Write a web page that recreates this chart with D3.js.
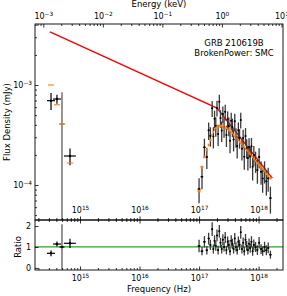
<!DOCTYPE html>
<html>
<head>
<meta charset="utf-8">
<script src="https://cdn.jsdelivr.net/npm/d3@7"></script>
<style>
  body { margin: 0; background: #fff; }
  text { font-family: "DejaVu Sans", sans-serif; }
</style>
</head>
<body>
<div id="root"></div>
<script>
// optical / UV points
var optNu = [3.26e14, 4.10e14, 4.98e14, 6.79e14];
var optNuLo = [2.79e14, 3.52e14, 4.98e14, 5.37e14];
var optNuHi = [3.80e14, 4.80e14, 4.98e14, 8.51e14];
var optFlux = [6.97e-4, 7.24e-4, 4.07e-4, 1.95e-4];
var optErr = [1.35e-4, 0.75e-4, 4.4e-4, 0.37e-4];
var optModel = [1.0e-3, 6.35e-4, 4.07e-4, 1.66e-4];

// X-ray bins
var xrayNu = [1.00e17, 1.12e17, 1.23e17, 1.35e17, 1.45e17, 1.55e17, 1.66e17, 1.74e17, 1.82e17, 1.91e17,
  2.00e17, 2.09e17, 2.19e17, 2.29e17, 2.40e17, 2.51e17, 2.63e17, 2.75e17, 2.88e17, 3.02e17,
  3.16e17, 3.31e17, 3.47e17, 3.63e17, 3.80e17, 3.98e17, 4.17e17, 4.37e17, 4.57e17, 4.79e17,
  5.01e17, 5.25e17, 5.50e17, 5.75e17, 6.03e17, 6.31e17, 6.61e17, 6.92e17, 7.24e17, 7.59e17,
  7.94e17, 8.32e17, 8.91e17, 9.55e17, 1.02e18, 1.10e18, 1.17e18, 1.26e18, 1.35e18, 1.45e18, 1.58e18];
var xrayFlux = [9.1e-5, 1.21e-4, 2.38e-4, 1.90e-4, 3.52e-4, 3.10e-4, 5.85e-4, 3.05e-4, 4.61e-4, 3.90e-4,
  5.89e-4, 3.23e-4, 6.81e-4, 4.67e-4, 3.50e-4, 5.13e-4, 3.80e-4, 5.39e-4, 3.16e-4, 4.54e-4,
  3.90e-4, 2.77e-4, 4.40e-4, 3.81e-4, 2.85e-4, 4.33e-4, 3.02e-4, 2.45e-4, 3.52e-4, 2.96e-4,
  4.47e-4, 2.31e-4, 2.95e-4, 1.92e-4, 3.09e-4, 2.35e-4, 1.86e-4, 2.40e-4, 1.94e-4, 2.44e-4,
  1.52e-4, 2.00e-4, 1.74e-4, 1.41e-4, 1.90e-4, 1.36e-4, 1.16e-4, 1.38e-4, 1.09e-4, 1.17e-4, 7.4e-5];
var xrayRelErr = [0.28, 0.25, 0.22, 0.24, 0.2, 0.22, 0.18, 0.24, 0.2, 0.22,
  0.18, 0.24, 0.17, 0.2, 0.23, 0.19, 0.22, 0.18, 0.24, 0.2,
  0.21, 0.25, 0.2, 0.21, 0.24, 0.19, 0.22, 0.25, 0.2, 0.22,
  0.18, 0.24, 0.21, 0.26, 0.2, 0.22, 0.25, 0.22, 0.24, 0.21,
  0.27, 0.23, 0.24, 0.27, 0.23, 0.26, 0.28, 0.25, 0.28, 0.27, 0.3];
var xrayModel = [8.7e-5, 1.51e-4, 1.91e-4, 2.24e-4, 2.51e-4, 2.82e-4, 3.16e-4, 3.39e-4, 3.55e-4, 3.72e-4,
  3.80e-4, 3.80e-4, 3.89e-4, 3.89e-4, 3.89e-4, 3.80e-4, 3.80e-4, 3.72e-4, 3.72e-4, 3.63e-4,
  3.55e-4, 3.47e-4, 3.39e-4, 3.31e-4, 3.16e-4, 3.09e-4, 3.02e-4, 2.88e-4, 2.82e-4, 2.69e-4,
  2.63e-4, 2.57e-4, 2.45e-4, 2.40e-4, 2.29e-4, 2.24e-4, 2.19e-4, 2.09e-4, 2.04e-4, 1.95e-4,
  1.91e-4, 1.82e-4, 1.74e-4, 1.66e-4, 1.58e-4, 1.51e-4, 1.45e-4, 1.38e-4, 1.29e-4, 1.23e-4, 1.17e-4];

// unabsorbed broken power law
var lineNu = [3.13e14, 2.0e17, 1.70e18];
var lineFlux = [3.39e-3, 5.89e-4, 1.17e-4];

var majorNu = [1e15, 1e16, 1e17, 1e18];
var majorE = [1e-3, 1e-2, 1e-1, 1e0, 1e1];
var majorF = [1e-4, 1e-3];
var ratioTicks = [0, 1, 2];
var keVtoHz = 2.418e17;

var W = 287, H = 296;
var L = 35, R = 283, T = 24, B1 = 220, B2 = 270;

var svg = d3.select("#root").append("svg")
  .attr("width", W).attr("height", H);

var x = d3.scaleLog().domain([10 ** 14.244, 10 ** 18.41]).range([L, R]);
var xE = d3.scaleLog().domain(x.domain().map(d => d / keVtoHz)).range([L, R]);
var y = d3.scaleLog().domain([10 ** -4.35, 10 ** -2.39]).range([B1, T]);
var yR = d3.scaleLinear().domain([-0.1, 2.24]).range([B2, B1 + 1]);

function minors(scale) {
  var d = scale.domain(), out = [];
  var lo = Math.floor(Math.log10(d[0])), hi = Math.ceil(Math.log10(d[1]));
  for (var e = lo; e <= hi; e++) for (var m = 2; m < 10; m++) {
    var v = m * 10 ** e;
    if (v > d[0] && v < d[1]) out.push(v);
  }
  return out;
}
function sup(sel, d) {
  var e = Math.round(Math.log10(d));
  sel.text(null);
  sel.append("tspan").text("10");
  sel.append("tspan").attr("dy", "-0.45em").attr("font-size", "5.8px")
    .text(String(e).replace("-", "\u2212"));
}
function styleAxis(g) {
  g.select(".domain").remove();
  g.selectAll("line").attr("stroke", "#000").attr("stroke-width", 0.8);
  g.selectAll("text").attr("font-size", "8px").attr("fill", "#000")
    .attr("font-family", "DejaVu Sans, sans-serif");
}

svg.append("clipPath").attr("id", "c1").append("rect")
  .attr("x", L).attr("y", T).attr("width", R - L).attr("height", B1 - T);
svg.append("clipPath").attr("id", "c2").append("rect")
  .attr("x", L).attr("y", B1).attr("width", R - L).attr("height", B2 - B1);

var main = svg.append("g").attr("clip-path", "url(#c1)");
var rat = svg.append("g").attr("clip-path", "url(#c2)");

// bin edges from neighbouring centres
var logC = xrayNu.map(Math.log10);
var edges = logC.map(function (c, i) {
  var lo = i > 0 ? (c + logC[i - 1]) / 2 : c - (logC[1] - logC[0]) / 2;
  var hi = i < logC.length - 1 ? (c + logC[i + 1]) / 2 : c + (c - logC[i - 1]) / 2;
  return [10 ** lo, 10 ** hi];
});

// red model
main.append("path")
  .datum(d3.zip(lineNu, lineFlux))
  .attr("fill", "none").attr("stroke", "#ff0000").attr("stroke-width", 1.4)
  .attr("d", d3.line().x(d => x(d[0])).y(d => y(d[1])));

// X-ray error bars
var xr = main.append("g");
xrayNu.forEach(function (nu, i) {
  var f = xrayFlux[i], e = f * xrayRelErr[i];
  xr.append("line").attr("x1", x(nu)).attr("x2", x(nu))
    .attr("y1", y(f + e)).attr("y2", y(f - e))
    .attr("stroke", "#3a3a3a").attr("stroke-width", 1.3);
  xr.append("line").attr("x1", x(edges[i][0])).attr("x2", x(edges[i][1]))
    .attr("y1", y(f)).attr("y2", y(f))
    .attr("stroke", "#000").attr("stroke-width", 1.1);
});
xrayNu.forEach(function (nu, i) {
  xr.append("circle").attr("cx", x(nu)).attr("cy", y(xrayFlux[i])).attr("r", 1).attr("fill", "#000");
});

// orange absorbed model
xrayNu.forEach(function (nu, i) {
  main.append("line").attr("x1", x(edges[i][0])).attr("x2", x(edges[i][1]))
    .attr("y1", y(xrayModel[i])).attr("y2", y(xrayModel[i]))
    .attr("stroke", "#ff7f0e").attr("stroke-width", 2.6);
});

// optical
optNu.forEach(function (nu, i) {
  var f = optFlux[i], e = optErr[i], big = e > f * 0.8;
  var lo = Math.max(f - e, 1e-8);
  main.append("line").attr("x1", x(nu)).attr("x2", x(nu))
    .attr("y1", y(f + e)).attr("y2", y(lo))
    .attr("stroke", big ? "#7a7a7a" : "#000").attr("stroke-width", big ? 1.6 : 1.2);
  main.append("line").attr("x1", x(optNuLo[i]) - (big ? 2.5 : 0)).attr("x2", x(optNuHi[i]) + (big ? 2.5 : 0))
    .attr("y1", y(f)).attr("y2", y(f))
    .attr("stroke", big ? "#8a6a4a" : "#000").attr("stroke-width", 1.2);
  main.append("line").attr("x1", x(nu) - 3).attr("x2", x(nu) + 3)
    .attr("y1", y(optModel[i])).attr("y2", y(optModel[i]))
    .attr("stroke", "#ff7f0e").attr("stroke-width", 1.3).attr("opacity", 0.85);
  if (!big) main.append("circle").attr("cx", x(nu)).attr("cy", y(f)).attr("r", 1.2).attr("fill", "#000");
});

// ratio panel
rat.append("line").attr("x1", L).attr("x2", R).attr("y1", yR(1)).attr("y2", yR(1))
  .attr("stroke", "#22aa22").attr("stroke-width", 1.3);
xrayNu.forEach(function (nu, i) {
  var r = xrayFlux[i] / xrayModel[i], e = r * xrayRelErr[i];
  rat.append("line").attr("x1", x(nu)).attr("x2", x(nu))
    .attr("y1", yR(r + e)).attr("y2", yR(r - e))
    .attr("stroke", "#3a3a3a").attr("stroke-width", 1.3);
  rat.append("line").attr("x1", x(edges[i][0])).attr("x2", x(edges[i][1]))
    .attr("y1", yR(r)).attr("y2", yR(r)).attr("stroke", "#000").attr("stroke-width", 1.1);
  rat.append("circle").attr("cx", x(nu)).attr("cy", yR(r)).attr("r", 1).attr("fill", "#000");
});
optNu.forEach(function (nu, i) {
  var r = optFlux[i] / optModel[i], e = optErr[i] / optModel[i], big = e > r * 0.8;
  rat.append("line").attr("x1", x(nu)).attr("x2", x(nu))
    .attr("y1", yR(r + e)).attr("y2", yR(r - e))
    .attr("stroke", big ? "#7a7a7a" : "#000").attr("stroke-width", big ? 1.6 : 1.2);
  rat.append("line").attr("x1", x(optNuLo[i]) - (big ? 2.5 : 0)).attr("x2", x(optNuHi[i]) + (big ? 2.5 : 0))
    .attr("y1", yR(r)).attr("y2", yR(r)).attr("stroke", "#000").attr("stroke-width", 1.2);
  rat.append("circle").attr("cx", x(nu)).attr("cy", yR(r)).attr("r", 1.3).attr("fill", "#000");
});

// axes: main bottom (labels inside)
var gMb = svg.append("g").attr("transform", "translate(0," + B1 + ")");
gMb.append("g").call(d3.axisBottom(x).tickValues(minors(x)).tickSize(-2).tickFormat("")).call(styleAxis);
var gMbM = gMb.append("g").call(d3.axisBottom(x).tickValues(majorNu).tickSize(-3.5)).call(styleAxis);
gMbM.selectAll("text").attr("y", -7).attr("dy", 0).each(function (d) { sup(d3.select(this), d); });

// ratio top ticks
var gRt = svg.append("g").attr("transform", "translate(0," + B1 + ")");
gRt.append("g").call(d3.axisTop(x).tickValues(minors(x)).tickSize(-2).tickFormat("")).call(styleAxis);
gRt.append("g").call(d3.axisTop(x).tickValues(majorNu).tickSize(-3.5).tickFormat("")).call(styleAxis);

// ratio bottom
var gRb = svg.append("g").attr("transform", "translate(0," + B2 + ")");
gRb.append("g").call(d3.axisBottom(x).tickValues(minors(x)).tickSize(-2).tickFormat("")).call(styleAxis);
var gRbM = gRb.append("g").call(d3.axisBottom(x).tickValues(majorNu).tickSize(-3.5)).call(styleAxis);
gRbM.selectAll("text").attr("y", 5).attr("dy", "0.71em").each(function (d) { sup(d3.select(this), d); });

// top energy axis
var gT = svg.append("g").attr("transform", "translate(0," + T + ")");
gT.append("g").call(d3.axisTop(xE).tickValues(minors(xE)).tickSize(-2).tickFormat("")).call(styleAxis);
var gTM = gT.append("g").call(d3.axisTop(xE).tickValues(majorE).tickSize(-3.5)).call(styleAxis);
gTM.selectAll("text").attr("y", -5).attr("dy", 0).each(function (d) { sup(d3.select(this), d); });

// left flux axis
var gL = svg.append("g").attr("transform", "translate(" + L + ",0)");
gL.append("g").call(d3.axisLeft(y).tickValues(minors(y)).tickSize(-2).tickFormat("")).call(styleAxis);
var gLM = gL.append("g").call(d3.axisLeft(y).tickValues(majorF).tickSize(-3.5)).call(styleAxis);
gLM.selectAll("text").attr("x", -3).each(function (d) { sup(d3.select(this), d); });

// left ratio axis
var gLR = svg.append("g").attr("transform", "translate(" + L + ",0)");
gLR.append("g").call(d3.axisLeft(yR).tickValues(ratioTicks).tickSize(-3.5).tickFormat(d3.format("d")))
  .call(styleAxis).selectAll("text").attr("x", -4);

// frames
[[T, B1], [B1, B2]].forEach(function (p) {
  svg.append("rect").attr("x", L).attr("y", p[0]).attr("width", R - L).attr("height", p[1] - p[0])
    .attr("fill", "none").attr("stroke", "#000").attr("stroke-width", 0.9);
});

// labels
svg.append("text").attr("x", (L + R) / 2).attr("y", 7).attr("text-anchor", "middle")
  .attr("font-size", "8.5px").text("Energy (keV)");
svg.append("text").attr("x", (L + R) / 2).attr("y", 292).attr("text-anchor", "middle")
  .attr("font-size", "8.5px").text("Frequency (Hz)");
svg.append("text").attr("transform", "translate(10," + (T + B1) / 2 + ") rotate(-90)")
  .attr("text-anchor", "middle").attr("font-size", "8.5px").text("Flux Density (mJy)");
svg.append("text").attr("transform", "translate(21," + yR(1) + ") rotate(-90)")
  .attr("text-anchor", "middle").attr("font-size", "8.5px").text("Ratio");
svg.append("text").attr("x", 234).attr("y", 46).attr("text-anchor", "middle")
  .attr("font-size", "8.5px").text("GRB 210619B");
svg.append("text").attr("x", 234).attr("y", 56).attr("text-anchor", "middle")
  .attr("font-size", "8.5px").text("BrokenPower: SMC");
</script>
</body>
</html>
